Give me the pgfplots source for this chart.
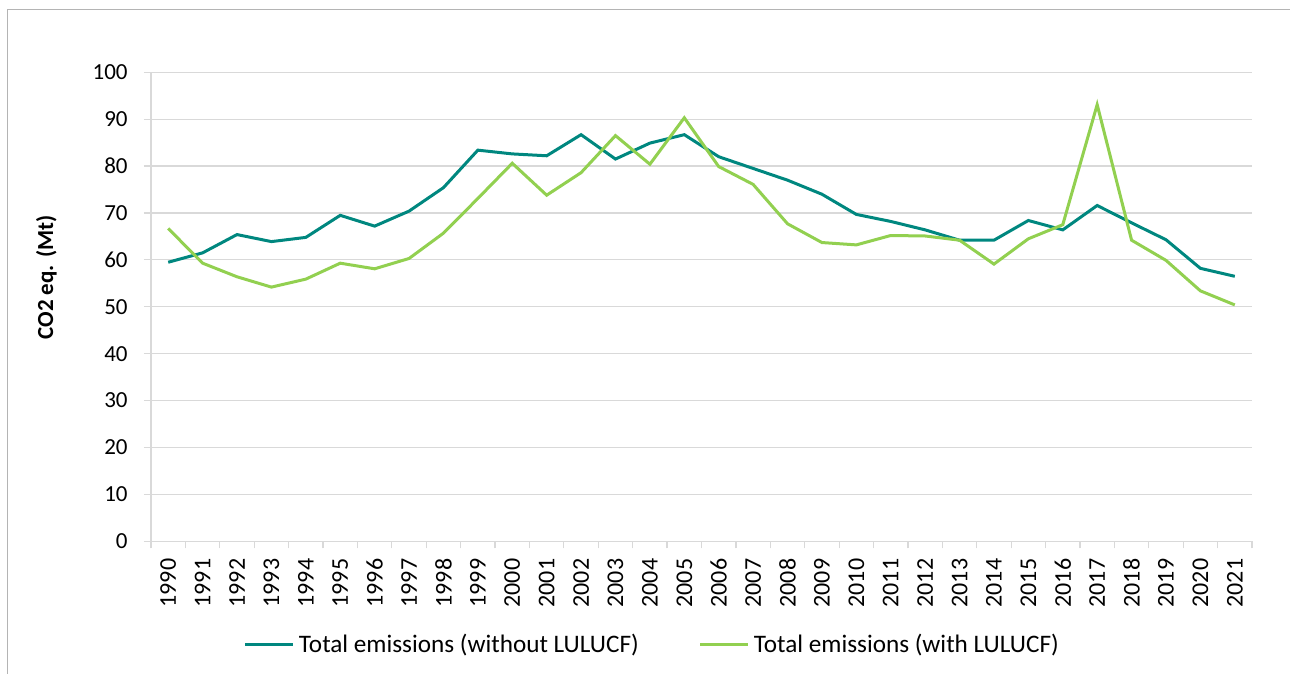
\documentclass[border=0pt]{standalone}
\usepackage{pgfplots}
\pgfplotsset{compat=1.18}
\usepackage{fontspec}
\setmainfont{Carlito}
\definecolor{teal1}{HTML}{00877F}
\definecolor{green1}{HTML}{92D050}
\definecolor{gridc}{HTML}{D9D9D9}
\definecolor{framec}{HTML}{B4B4B4}
\begin{document}
\fontsize{11.5}{13.8}\selectfont
\begin{tikzpicture}[font=\fontsize{11.5}{13.8}\selectfont]
\useasboundingbox (0,0) rectangle (645pt,337pt);
\draw[framec, line width=0.75pt] (3.75pt,-2pt) -- (3.75pt,332.15pt) -- (647pt,332.15pt);
\begin{axis}[
  at={(75.5pt,66.35pt)}, anchor=south west, scale only axis,
  width=550.5pt, height=234.5pt,
  xmin=-0.5, xmax=31.5, ymin=0, ymax=100,
  ytick={0,10,...,100},
  xtick={-0.5,0.5,...,31.5},
  xticklabels={},
  extra x ticks={0,1,...,31},
  extra x tick labels={1990,1991,1992,1993,1994,1995,1996,1997,1998,1999,2000,2001,2002,2003,2004,2005,2006,2007,2008,2009,2010,2011,2012,2013,2014,2015,2016,2017,2018,2019,2020,2021},
  extra x tick style={major tick length=0pt, xticklabel style={yshift=-8.5pt, rotate=90, anchor=east, inner sep=0pt, font=\fontsize{12}{14}\selectfont}},
  axis x line*=bottom, axis y line*=left,
  axis line style={gridc, line width=0.6pt, -},
  ymajorgrids, grid style={gridc, line width=0.6pt},
  tick align=outside, major tick length=3.5pt,
  tick style={gridc, line width=0.6pt},
  yticklabel style={anchor=east, inner sep=0pt, xshift=-8pt},
  /pgf/number format/assume math mode=true,
  ylabel={CO2 eq. (Mt)},
  ylabel style={at={(axis description cs:-0.0949,0.5625)}, anchor=center, font=\fontsize{11.5}{13.8}\selectfont\bfseries},
  legend columns=2,
  legend style={at={(0.4563,-0.2211)}, anchor=center, draw=none, fill=none,
    font=\fontsize{12.6}{15}\selectfont,
    /tikz/every even column/.append style={column sep=28pt},
    nodes={inner sep=2pt}},
  legend image code/.code={\draw[#1, line width=1.5pt] (0pt,0pt) -- (24pt,0pt);},
]
\addplot[teal1, line width=1.5pt] coordinates {
(0,59.5)(1,61.5)(2,65.4)(3,63.9)(4,64.8)(5,69.5)(6,67.2)(7,70.4)(8,75.4)(9,83.4)
(10,82.6)(11,82.2)(12,86.7)(13,81.5)(14,84.9)(15,86.7)(16,82.0)(17,79.5)(18,77.0)(19,74.0)
(20,69.7)(21,68.2)(22,66.4)(23,64.2)(24,64.2)(25,68.4)(26,66.4)(27,71.6)(28,67.9)(29,64.3)
(30,58.2)(31,56.5)};
\addlegendentry{Total emissions (without LULUCF)}
\addplot[green1, line width=1.5pt] coordinates {
(0,66.7)(1,59.3)(2,56.4)(3,54.2)(4,55.9)(5,59.3)(6,58.1)(7,60.3)(8,65.7)(9,73.1)
(10,80.6)(11,73.8)(12,78.6)(13,86.5)(14,80.4)(15,90.3)(16,79.9)(17,76.1)(18,67.7)(19,63.7)
(20,63.2)(21,65.2)(22,65.1)(23,64.2)(24,59.1)(25,64.5)(26,67.5)(27,93.1)(28,64.2)(29,59.9)
(30,53.4)(31,50.4)};
\addlegendentry{Total emissions (with LULUCF)}
\end{axis}
\end{tikzpicture}
\end{document}
